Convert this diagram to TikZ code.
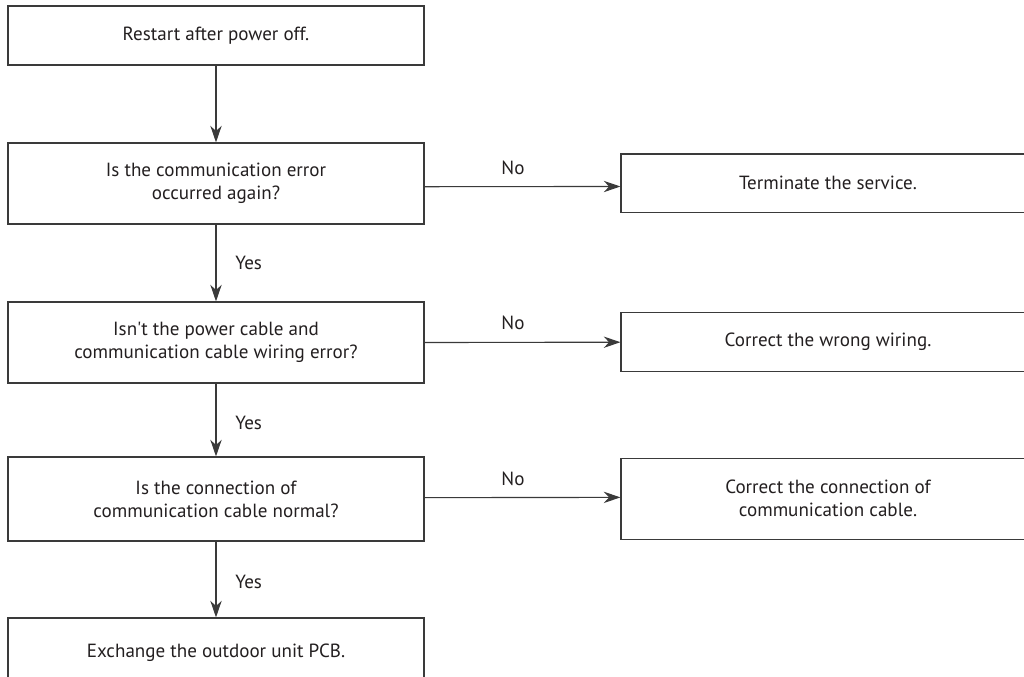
\documentclass[tikz,border=0pt]{standalone}
\usepackage{fontspec}
\setmainfont{PT Sans}[Ligatures=TeXOff]
\usetikzlibrary{arrows.meta}
\definecolor{linegray}{HTML}{3A3A3A}
\definecolor{txt}{HTML}{231F20}
\begin{document}
\begin{tikzpicture}[x=0.75pt,y=-0.75pt,
  box/.style={draw=linegray,line width=0.85pt,rectangle,inner sep=0pt,
    minimum width=312pt,align=center,text=txt,
    font=\fontsize{14.3}{17.25}\selectfont},
  rbox/.style={box,minimum width=310.5pt},
  arr/.style={draw=linegray,line width=0.85pt,
    -{Stealth[length=12.5pt,width=8.5pt,inset=4pt]}},
  lbl/.style={text=txt,inner sep=0pt,font=\fontsize{14.3}{17}\selectfont}]
\useasboundingbox (0,0) rectangle (1024,677);
\node[box,minimum height=44.25pt] (b1) at (216,35.5) {Restart after power off.};
\node[box,minimum height=60.75pt] (b2) at (216,183.5) {Is the communication error\\occurred again?};
\node[box,minimum height=60.75pt] (b3) at (216,342.5) {Isn't the power cable and\\communication cable wiring error?};
\node[box,minimum height=63pt] (b4) at (216,499) {Is the connection of\\communication cable normal?};
\node[box,minimum height=52.5pt] (b5) at (216,653) {Exchange the outdoor unit PCB.};
\node[rbox,minimum height=44pt] (r1) at (828,183.3) {Terminate the service.};
\node[rbox,minimum height=44.25pt] (r2) at (828,342.2) {Correct the wrong wiring.};
\node[rbox,minimum height=60.75pt] (r3) at (828,498.7) {Correct the connection of\\communication cable.};
\draw[arr] (b1.south) -- (b2.north);
\draw[arr] (b2.south) -- (b3.north);
\draw[arr] (b3.south) -- (b4.north);
\draw[arr] (b4.south) -- (b5.north);
\draw[arr] ([yshift=-2.4pt]b2.east) -- ([yshift=-2.4pt]r1.west);
\draw[arr] (b3.east) -- (r2.west);
\draw[arr] ([yshift=1pt]b4.east) -- ([yshift=1pt]r3.west);
\node[lbl] (n1) at (513,168) {No};
\node[lbl] (n2) at (513,323) {No};
\node[lbl] (n3) at (513,478.6) {No};
\node[lbl,anchor=west] (y1) at (235,263) {Yes};
\node[lbl,anchor=west] (y2) at (235,423) {Yes};
\node[lbl,anchor=west] (y3) at (235,582) {Yes};
\end{tikzpicture}
\end{document}
